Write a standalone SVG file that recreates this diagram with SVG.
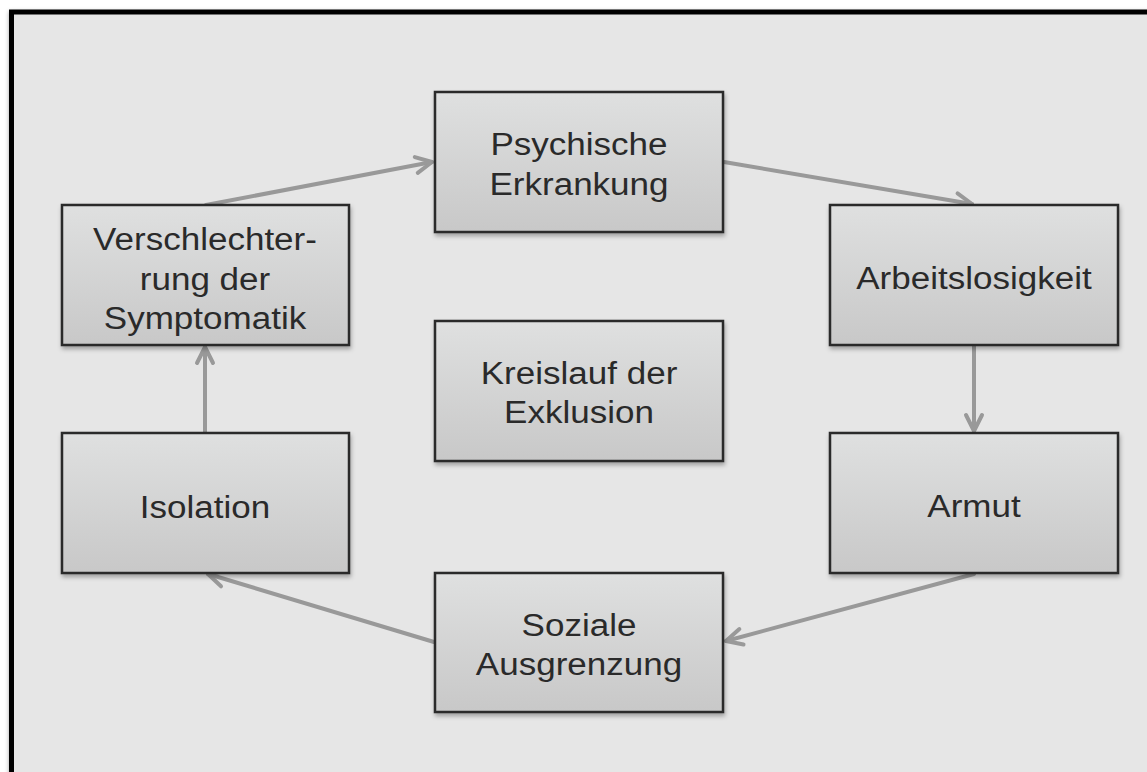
<svg xmlns="http://www.w3.org/2000/svg" width="1147" height="772" viewBox="0 0 1147 772">
  <style>
    .box { fill: url(#boxGrad); stroke: #2b2b2b; stroke-width: 2.5; filter: url(#shadow); }
    .lbl { font-family: "Liberation Sans", Arial, sans-serif; font-size: 31px; fill: #2a2a2a; text-anchor: middle; }
    .conn { stroke: #999999; stroke-width: 4; fill: none; stroke-linecap: round; marker-end: url(#arrow); }
  </style>
  <defs>
    <linearGradient id="boxGrad" x1="0" y1="0" x2="0" y2="1">
      <stop offset="0" stop-color="#dfe0e0"/>
      <stop offset="1" stop-color="#c8c8c8"/>
    </linearGradient>
    <filter id="shadow" x="-10%" y="-10%" width="130%" height="130%">
      <feDropShadow dx="1" dy="3" stdDeviation="2" flood-color="#000" flood-opacity="0.3"/>
    </filter>
    <filter id="frameShadow" x="-5%" y="-5%" width="110%" height="110%">
      <feDropShadow dx="0" dy="2" stdDeviation="2" flood-color="#000" flood-opacity="0.35"/>
    </filter>
    <marker id="arrow" markerUnits="userSpaceOnUse" viewBox="-22 -12 26 24" refX="0" refY="0" markerWidth="26" markerHeight="24" orient="auto">
      <path d="M-16,-8 L0,0 L-16,8" fill="none" stroke="#999999" stroke-width="4" stroke-linecap="round" stroke-linejoin="round"/>
    </marker>
  </defs>

  <rect x="0" y="0" width="1147" height="772" fill="#ffffff"/>
  <rect id="frame" x="11.5" y="12" width="1200" height="820" fill="#e6e6e6" stroke="#000000" stroke-width="5" filter="url(#frameShadow)"/>

  <g id="connectors">
    <line class="conn" x1="206" y1="205" x2="432" y2="162"/>
    <line class="conn" x1="724" y1="162" x2="972" y2="204"/>
    <line class="conn" x1="974" y1="346" x2="974" y2="431"/>
    <line class="conn" x1="974" y1="574" x2="726" y2="641"/>
    <line class="conn" x1="434" y1="642" x2="208" y2="574"/>
    <line class="conn" x1="205" y1="432" x2="205" y2="347"/>
  </g>

  <g id="psychische-erkrankung">
    <rect class="box" x="435" y="92" width="288" height="140"/>
    <text class="lbl" transform="translate(579,155) scale(1.13,1)">Psychische</text>
    <text class="lbl" transform="translate(579,195) scale(1.13,1)">Erkrankung</text>
  </g>

  <g id="arbeitslosigkeit">
    <rect class="box" x="830" y="205" width="288" height="140"/>
    <text class="lbl" transform="translate(974,289) scale(1.13,1)">Arbeitslosigkeit</text>
  </g>

  <g id="armut">
    <rect class="box" x="830" y="433" width="288" height="140"/>
    <text class="lbl" transform="translate(974,517) scale(1.13,1)">Armut</text>
  </g>

  <g id="soziale-ausgrenzung">
    <rect class="box" x="435" y="573" width="288" height="139"/>
    <text class="lbl" transform="translate(579,636) scale(1.13,1)">Soziale</text>
    <text class="lbl" transform="translate(579,675) scale(1.13,1)">Ausgrenzung</text>
  </g>

  <g id="isolation">
    <rect class="box" x="62" y="433" width="287" height="140"/>
    <text class="lbl" transform="translate(205,518) scale(1.13,1)">Isolation</text>
  </g>

  <g id="verschlechterung">
    <rect class="box" x="62" y="205" width="287" height="140"/>
    <text class="lbl" transform="translate(205,250) scale(1.13,1)">Verschlechter-</text>
    <text class="lbl" transform="translate(205,290) scale(1.13,1)">rung der</text>
    <text class="lbl" transform="translate(205,329) scale(1.13,1)">Symptomatik</text>
  </g>

  <g id="kreislauf">
    <rect class="box" x="435" y="321" width="288" height="140"/>
    <text class="lbl" transform="translate(579,384) scale(1.13,1)">Kreislauf der</text>
    <text class="lbl" transform="translate(579,423) scale(1.13,1)">Exklusion</text>
  </g>
</svg>
